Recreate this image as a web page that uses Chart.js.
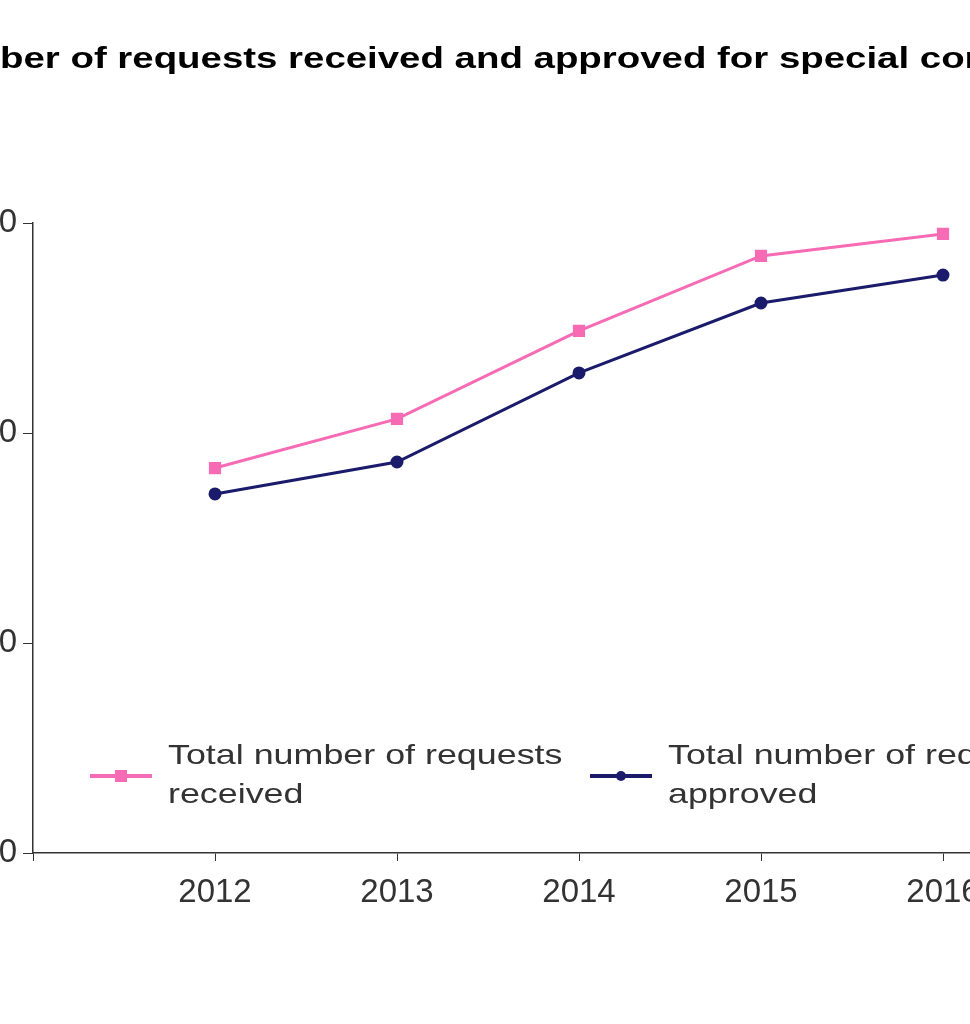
<!DOCTYPE html>
<html>
<head>
<meta charset="utf-8">
<script src="https://cdn.jsdelivr.net/npm/chart.js@4"></script>
<style>
  html, body { margin: 0; padding: 0; background: #fff; overflow: hidden; }
  #wrap { position: absolute; left: -200px; top: 0; width: 1400px; height: 1024px; }
</style>
</head>
<body>
<div id="wrap"><canvas id="chart" width="1400" height="1024"></canvas></div>
<script>
// data
const titleText = 'Number of requests received and approved for special consideration';
const years = [2012, 2013, 2014, 2015, 2016];
const received = [1833, 2067, 2486, 2843, 2948];
const approved = [1710, 1862, 2286, 2619, 2752];
const receivedLabel = ['Total number of requests', 'received'];
const approvedLabel = ['Total number of requests', 'approved'];

const pink = '#f66bb4';
const navy = '#1b1b6b';
const stretch = 1.28; // the source text is drawn wide

function wideText(ctx, text, x, y) {
    ctx.save();
    ctx.translate(x, y);
    ctx.scale(stretch, 1);
    ctx.fillText(text, 0, 0);
    ctx.restore();
}

// title + legend drawn by hand (legend sits inside the plot)
const extras = {
    id: 'extras',
    afterDraw(chart) {
        const ctx = chart.ctx;
        ctx.save();
        ctx.fillStyle = '#000';
        ctx.font = 'bold 30px "Liberation Sans", Arial, sans-serif';
        ctx.textBaseline = 'middle';
        const numW = ctx.measureText('Num').width * stretch;
        wideText(ctx, titleText, 200 - numW, 60);

        const items = [
            { x: 290, label: receivedLabel, color: pink, square: true },
            { x: 790, label: approvedLabel, color: navy, square: false }
        ];
        items.forEach(it => {
            ctx.strokeStyle = it.color;
            ctx.fillStyle = it.color;
            ctx.lineWidth = 4;
            ctx.beginPath();
            ctx.moveTo(it.x, 776);
            ctx.lineTo(it.x + 62, 776);
            ctx.stroke();
            if (it.square) {
                ctx.fillRect(it.x + 25, 770, 12, 12);
            } else {
                ctx.beginPath();
                ctx.arc(it.x + 31, 776, 5, 0, Math.PI * 2);
                ctx.fill();
            }
            ctx.fillStyle = '#333';
            ctx.font = '28px "Liberation Sans", Arial, sans-serif';
            it.label.forEach((line, i) => wideText(ctx, line, it.x + 78, 756 + i * 39));
        });
        ctx.restore();
    }
};

new Chart(document.getElementById('chart'), {
    type: 'line',
    data: {
        datasets: [{
            label: receivedLabel.join(' '),
            data: years.map((y, i) => ({ x: y, y: received[i] })),
            borderColor: pink,
            backgroundColor: pink,
            borderWidth: 3,
            pointStyle: 'rect',
            pointRadius: 6.5
        }, {
            label: approvedLabel.join(' '),
            data: years.map((y, i) => ({ x: y, y: approved[i] })),
            borderColor: navy,
            backgroundColor: navy,
            borderWidth: 3,
            pointStyle: 'circle',
            pointRadius: 5
        }]
    },
    options: {
        responsive: false,
        animation: false,
        layout: { padding: { top: 223, left: 0, right: 75, bottom: 0 } },
        plugins: { legend: { display: false }, tooltip: { enabled: false } },
        scales: {
            x: {
                type: 'linear',
                min: 2011,
                max: 2017,
                afterFit: s => { s.height = 171; },
                ticks: {
                    stepSize: 1,
                    padding: 12,
                    color: '#333',
                    font: { size: 33, family: '"Liberation Sans", Arial, sans-serif' },
                    callback: v => (v === 2011 || v === 2017) ? '' : String(v)
                },
                grid: { drawOnChartArea: false, tickLength: 8, color: '#333' },
                border: { color: '#333', width: 1.5 }
            },
            y: {
                min: 0,
                max: 3000,
                afterFit: s => { s.width = 233; },
                ticks: {
                    stepSize: 1000,
                    padding: 6,
                    color: '#333',
                    font: { size: 33, family: '"Liberation Sans", Arial, sans-serif' }
                },
                grid: { drawOnChartArea: false, tickLength: 10, color: '#333' },
                border: { color: '#333', width: 1.5 }
            }
        }
    },
    plugins: [extras]
});
</script>
</body>
</html>
